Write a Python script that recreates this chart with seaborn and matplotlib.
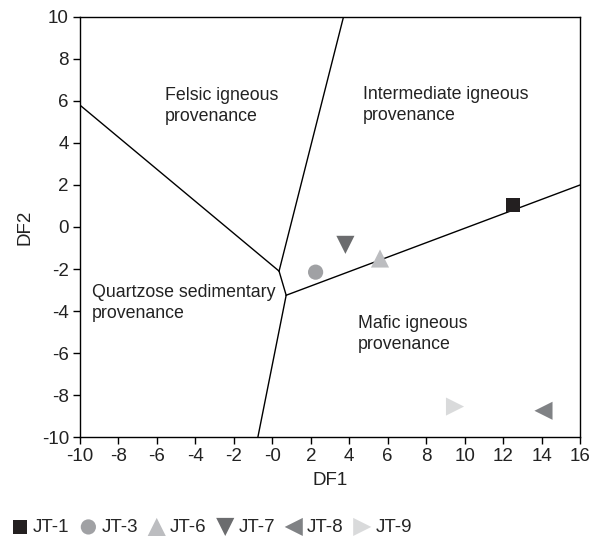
import matplotlib
matplotlib.use("Agg")
import matplotlib.pyplot as plt
import seaborn as sns
import pandas as pd
import numpy as np

# --- data ---
samples = ["JT-1", "JT-3", "JT-6", "JT-7", "JT-8", "JT-9"]
df1_vals = [12.5, 2.25, 5.6, 3.8, 14.1, 9.5]
df2_vals = [1.05, -2.15, -1.5, -0.85, -8.75, -8.55]
colors = ["#231f20", "#a0a1a4", "#bcbdc0", "#6b6c6e", "#808285", "#d9dadb"]
markers = ["s", "o", "^", "v", "<", ">"]

# boundary segments (x0, y0, x1, y1)
seg_x0 = [-10.0, 0.35, 0.35, 0.72, 0.72]
seg_y0 = [5.8, -2.1, -2.1, -3.25, -3.25]
seg_x1 = [0.35, 3.7, 0.72, -0.75, 16.0]
seg_y1 = [-2.1, 10.0, -3.25, -10.0, 2.0]

region_labels = ["Felsic igneous\nprovenance", "Intermediate igneous\nprovenance",
                 "Quartzose sedimentary\nprovenance", "Mafic igneous\nprovenance"]
region_x = [-5.6, 4.7, -9.4, 4.45]
region_y = [6.65, 6.7, -2.7, -4.2]

x_ticks = list(range(-10, 17, 2))
x_ticklabels = ["-10", "-8", "-6", "-4", "-2", "-0", "2", "4", "6", "8", "10", "12", "14", "16"]
y_ticks = list(range(-10, 11, 2))
y_ticklabels = ["-10", "-8", "-6", "-4", "-2", "0", "2", "4", "6", "8", "10"]

sns.set_theme(style="white")
plt.rcParams["font.family"] = ["Liberation Sans", "DejaVu Sans"]

fig = plt.figure(figsize=(5.91, 5.39), dpi=100)
ax = fig.add_axes([0.1354, 0.1892, 0.8460, 0.7793])

for x0, y0, x1, y1 in zip(seg_x0, seg_y0, seg_x1, seg_y1):
    ax.plot([x0, x1], [y0, y1], color="black", lw=1.0, zorder=1)

data = pd.DataFrame({"DF1": df1_vals, "DF2": df2_vals, "Sample": samples})
sizes = {"JT-1": 100, "JT-3": 120, "JT-6": 170, "JT-7": 170, "JT-8": 170, "JT-9": 170}
for s, c, m in zip(samples, colors, markers):
    sub = data[data["Sample"] == s]
    sns.scatterplot(data=sub, x="DF1", y="DF2", color=c, marker=m, s=sizes[s],
                    edgecolor="none", ax=ax, label=s, zorder=3)

for t, x, y in zip(region_labels, region_x, region_y):
    ax.text(x, y, t, fontsize=12.8, ha="left", va="top", color="#222222", linespacing=1.3)

ax.set_xlim(-10, 16)
ax.set_ylim(-10, 10)
ax.set_xticks(x_ticks)
ax.set_xticklabels(x_ticklabels)
ax.set_yticks(y_ticks)
ax.set_yticklabels(y_ticklabels)
ax.tick_params(direction="out", length=5, width=1, color="black", labelsize=13.5,
               labelcolor="#222222", bottom=True, left=True, pad=3)
for sp in ax.spines.values():
    sp.set_color("black")
    sp.set_linewidth(1.0)
ax.set_xlabel("DF1", fontsize=13.5, color="#222222", labelpad=5)
ax.set_ylabel("DF2", fontsize=13.5, color="#222222", labelpad=6)

handles, labels = ax.get_legend_handles_labels()
ax.get_legend().remove()
fig.legend(handles, labels, loc="lower left", bbox_to_anchor=(-0.009, -0.022), ncol=6,
           frameon=False, fontsize=13.5, handletextpad=0.15, columnspacing=0.45,
           handlelength=1.1, markerscale=1.0, borderaxespad=0.4)

fig.savefig("out.png", dpi=100)
